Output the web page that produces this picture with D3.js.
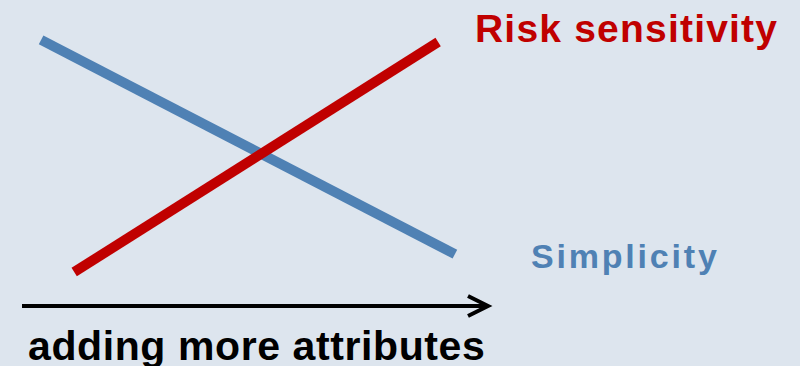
<!DOCTYPE html>
<html>
<head>
<meta charset="utf-8">
<script src="https://cdn.jsdelivr.net/npm/d3@7"></script>
<style>
  html, body { margin: 0; padding: 0; background: #dde5ee; }
  svg { display: block; }
  text { font-family: "Liberation Sans", Arial, sans-serif; font-weight: bold; }
</style>
</head>
<body>
<svg id="chart" width="800" height="366"></svg>
<script>
// Trade-off: as more attributes are added, simplicity falls and risk sensitivity rises.
const seriesNames = ["Simplicity", "Risk sensitivity"];
const simplicityX = [4.1, 92.9];
const simplicityY = [96.2, 13.8];
const riskX = [11.2, 89.3];
const riskY = [6.9, 95.4];
const axisLabel = "adding more attributes";
const axisExtent = [0, 100];

const colors = { "Simplicity": "#4f81b4", "Risk sensitivity": "#c00000" };

const svg = d3.select("#chart");
const W = 800, H = 366;

svg.append("rect").attr("width", W).attr("height", H).attr("fill", "#dde5ee");

const x = d3.scaleLinear().domain([0, 100]).range([22, 488]);
const y = d3.scaleLinear().domain([0, 100]).range([290, 30]);

const line = d3.line().x(d => x(d[0])).y(d => y(d[1]));

const series = [
  { name: "Simplicity", pts: d3.zip(simplicityX, simplicityY) },
  { name: "Risk sensitivity", pts: d3.zip(riskX, riskY) }
];

svg.selectAll("path.trend")
  .data(series)
  .join("path")
  .attr("class", "trend")
  .attr("d", d => line(d.pts))
  .attr("fill", "none")
  .attr("stroke", d => colors[d.name])
  .attr("stroke-width", 10)
  .attr("stroke-linecap", "butt");

// Series labels
svg.append("text")
  .attr("x", 475).attr("y", 42)
  .attr("font-size", 39)
  .attr("letter-spacing", 1.2)
  .attr("fill", colors["Risk sensitivity"])
  .text(seriesNames[1]);

svg.append("text")
  .attr("x", 531).attr("y", 268)
  .attr("font-size", 34)
  .attr("letter-spacing", 2.8)
  .attr("fill", colors["Simplicity"])
  .text(seriesNames[0]);

// Horizontal arrow for the attribute axis
const ay = 306;
svg.append("line")
  .attr("x1", x(axisExtent[0])).attr("x2", x(axisExtent[1]) - 2)
  .attr("y1", ay).attr("y2", ay)
  .attr("stroke", "#000").attr("stroke-width", 4);

svg.append("polyline")
  .attr("points", [[x(axisExtent[1]) - 20, ay - 10], [x(axisExtent[1]), ay], [x(axisExtent[1]) - 20, ay + 10]].map(p => p.join(",")).join(" "))
  .attr("fill", "none").attr("stroke", "#000").attr("stroke-width", 4)
  .attr("stroke-linejoin", "miter");

svg.append("text")
  .attr("x", 28).attr("y", 360)
  .attr("font-size", 41)
  .attr("letter-spacing", 0.6)
  .attr("fill", "#000")
  .text(axisLabel);
</script>
</body>
</html>
